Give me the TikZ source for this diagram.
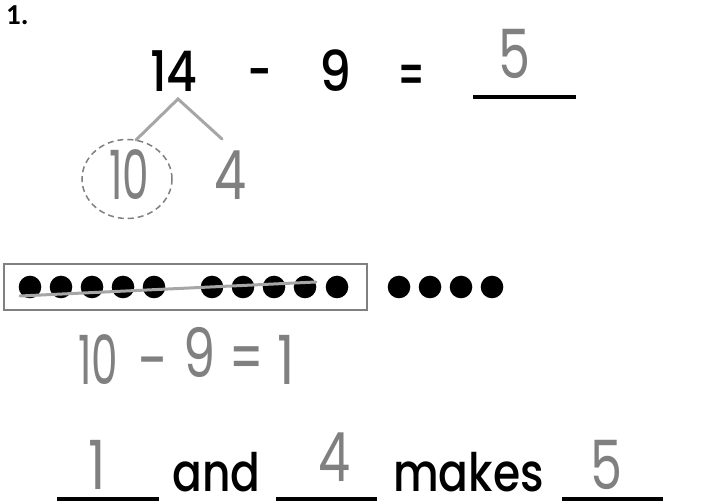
\documentclass[tikz,border=0pt]{standalone}
\usepackage{fontspec}
\setmainfont{Poppins}
\newfontfamily\mainfont{Poppins Medium}
\newfontfamily\hand{Poppins}
\newfontfamily\numfont{Carlito}
\usetikzlibrary{shapes.geometric}
\definecolor{handgray}{HTML}{808080}
\definecolor{linegray}{HTML}{A6A6A6}
\definecolor{framegray}{HTML}{808080}
\newcommand{\nx}[2]{\scalebox{#1}[1]{#2}}
\begin{document}
\begin{tikzpicture}[x=1pt,y=-1pt,
  big/.style={inner sep=0, font=\mainfont\fontsize{56}{60}\selectfont, anchor=base},
  words/.style={inner sep=0, font=\mainfont\fontsize{53}{58}\selectfont, anchor=base},
  hw/.style={inner sep=0, text=handgray, font=\hand\fontsize{68}{72}\selectfont, anchor=base},
  blank/.style={line width=3.5pt, black},
  tree/.style={line width=3pt, linegray, line cap=round},
  dot/.style={circle, fill=black, minimum size=22.6pt, inner sep=0}]
\useasboundingbox (0,0) rectangle (718,502);

% question number
\node[inner sep=0, anchor=base west, font=\numfont\bfseries\fontsize{29}{31}\selectfont] (qnum) at (6,25) {1.};

% top equation
\node[big] (n14) at (174,92) {\nx{0.85}{14}};
\node[big] (minus) at (260,92) {\nx{0.75}{-}};
\node[big] (n9) at (335,92) {\nx{0.9}{9}};
\node[big] (eq) at (412,95) {\nx{0.65}{=}};
\coordinate (b0a) at (473,97);
\coordinate (b0b) at (576,97);
\draw[blank] (b0a) -- (b0b);
\node[hw] (ans) at (515,79) {\nx{0.75}{5}};

% number bond
\coordinate (apex) at (178,99);
\coordinate (lend) at (136,140);
\coordinate (rend) at (222,139);
\draw[tree] (lend) -- (apex) -- (rend);
\node[ellipse, draw=framegray, dashed, dash pattern=on 6pt off 4pt, line width=1.5pt,
      minimum width=90pt, minimum height=79pt, inner sep=0] (ring) at (127,179) {};
\node[hw] (ten) at (129,200) {\nx{0.62}{10}};
\node[hw] (four) at (231,200) {\nx{0.75}{4}};

% ten frame and dots
\node[draw=framegray, line width=2.5pt, minimum width=363pt, minimum height=46pt, inner sep=0] (frame) at (185.5,287) {};
\foreach \x [count=\i] in {30,61,92,123,154,212,243,274,305,337,399,430,461,492}
  \node[dot] (d\i) at (\x,287) {};
\coordinate (s1) at (20,296);
\coordinate (s2) at (316,282);
\draw[tree] (s1) -- (s2);

% 10 - 9 = 1
\node[hw] (h10) at (98,385) {\nx{0.62}{10}};
\node[hw] (hm) at (153,385) {\nx{0.8}{-}};
\node[hw] (h9) at (200,378) {\nx{0.75}{9}};
\node[hw] (heq) at (247,382) {\nx{0.7}{=}};
\node[hw] (h1) at (286,385) {\nx{0.8}{1}};

% bottom sentence
\coordinate (u1a) at (57,499);  \coordinate (u1b) at (159,499);
\coordinate (u2a) at (276,499); \coordinate (u2b) at (377,499);
\coordinate (u3a) at (562,499); \coordinate (u3b) at (663,499);
\draw[blank] (u1a) -- (u1b);
\draw[blank] (u2a) -- (u2b);
\draw[blank] (u3a) -- (u3b);
\node[words] (and) at (216.5,492) {\nx{0.83}{and}};
\node[words] (makes) at (468.5,492) {\nx{0.83}{makes}};
\node[hw] (a1) at (97,490) {\nx{0.8}{1}};
\node[hw] (a4) at (335,482) {\nx{0.75}{4}};
\node[hw] (a5) at (607,490) {\nx{0.75}{5}};
\end{tikzpicture}
\end{document}
